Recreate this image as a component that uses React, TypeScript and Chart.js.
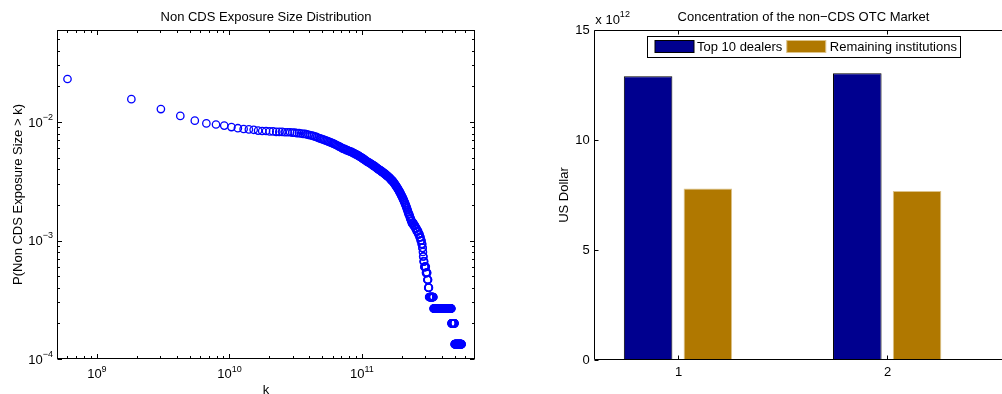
import React, { useEffect, useRef } from 'react';
import { Chart, registerables } from 'chart.js';

Chart.register(...registerables);

// ---------- Left panel: CCDF of non-CDS exposure sizes ----------
const N_EXPOSURES = 15000;
// evaluation grid of k (uniformly spaced thresholds)
const K_START = 0.6e9;
const K_STEP = 1.22e9;
// number of exposures larger than k, one per grid point
const CCDF_COUNTS = [
  346, 234, 193, 169, 154, 146, 143, 140, 136, 133,
  131, 130, 129, 127, 126, 126, 125, 125, 124, 124,
  124, 123, 123, 123, 122, 122, 121, 121, 120, 119,
  119, 118, 117, 116, 115, 114, 113, 112, 110, 109,
  108, 107, 106, 105, 104, 103, 102, 101, 100, 99,
  98, 97, 96, 95, 94, 93, 92, 91, 90, 89,
  89, 88, 87, 87, 86, 85, 85, 84, 84, 83,
  82, 82, 81, 80, 80, 79, 78, 78, 77, 76,
  76, 75, 74, 74, 73, 72, 72, 71, 70, 70,
  69, 69, 68, 68, 67, 67, 66, 66, 65, 65,
  64, 64, 63, 63, 62, 62, 61, 61, 60, 60,
  59, 59, 59, 58, 58, 57, 57, 57, 56, 56,
  55, 55, 55, 54, 54, 53, 53, 53, 52, 52,
  51, 51, 51, 50, 50, 49, 49, 48, 48, 48,
  47, 47, 46, 46, 45, 45, 44, 44, 43, 43,
  42, 42, 41, 41, 40, 40, 39, 39, 38, 38,
  37, 37, 36, 36, 35, 35, 34, 34, 33, 33,
  32, 32, 31, 31, 30, 30, 29, 29, 28, 28,
  27, 27, 26, 26, 25, 25, 25, 24, 24, 23,
  23, 23, 22, 22, 22, 21, 21, 21, 21, 21,
  21, 20, 20, 20, 20, 20, 20, 19, 19, 19,
  19, 19, 18, 18, 18, 18, 18, 18, 17, 17,
  17, 17, 17, 16, 16, 16, 16, 15, 15, 15,
  15, 14, 14, 14, 13, 13, 12, 11, 11, 10,
  10, 10, 9, 9, 9, 9, 9, 9, 9, 8,
  8, 8, 8, 8, 8, 7, 7, 7, 7, 6,
  6, 6, 6, 5, 5, 5, 5, 5, 5, 5,
  5, 5, 5, 5, 5, 5, 5, 5, 5, 5,
  5, 5, 5, 5, 4, 4, 4, 4, 4, 4,
  4, 4, 4, 4, 4, 4, 4, 4, 4, 4,
  4, 4, 4, 4, 4, 4, 4, 4, 4, 4,
  4, 4, 4, 4, 4, 4, 4, 4, 4, 4,
  4, 4, 4, 4, 4, 4, 4, 4, 4, 4,
  4, 4, 4, 4, 4, 4, 4, 4, 4, 4,
  4, 4, 4, 4, 4, 4, 4, 4, 4, 4,
  4, 4, 4, 4, 4, 4, 4, 4, 4, 4,
  4, 4, 4, 4, 4, 4, 4, 4, 4, 4,
  4, 4, 4, 4, 4, 4, 4, 4, 4, 4,
  4, 4, 4, 4, 4, 4, 4, 4, 3, 3,
  3, 3, 3, 3, 3, 3, 3, 3, 3, 3,
  3, 3, 3, 3, 3, 3, 3, 3, 3, 3,
  2, 2, 2, 2, 2, 2, 2, 2, 2, 2,
  2, 2, 2, 2, 2, 2, 2, 2, 2, 2,
  2, 2, 2, 2, 2, 2, 2, 2, 2, 2,
  2, 2, 2, 2, 2, 2, 2, 2, 2, 2,
  2, 2, 2, 2, 2, 2, 2, 2, 2, 2,
  2, 2, 2,
];
const X_MIN = 5e8;
const X_MAX = 7.13e11;
const Y_MIN = 1e-4;
const Y_MAX = 0.0598;
const X_DECADES = [9, 10, 11];
const Y_DECADES = [-4, -3, -2];
const LEFT_TITLE = 'Non CDS Exposure Size Distribution';
const LEFT_XLABEL = 'k';
const LEFT_YLABEL = 'P(Non CDS Exposure Size > k)';

// ---------- Right panel: concentration bars ----------
const BAR_CATEGORIES = [1, 2];
const TOP10_DEALERS = [12.9e12, 13.03e12];
const REMAINING_INSTITUTIONS = [7.8e12, 7.68e12];
const BAR_Y_TICKS = [0, 5, 10, 15];
const BAR_SCALE_EXP = 12;
const RIGHT_TITLE = 'Concentration of the non\u2212CDS OTC Market';
const RIGHT_YLABEL = 'US Dollar';
const SERIES_NAMES = ['Top 10 dealers', 'Remaining institutions'];

const FONT = '"Liberation Sans", Arial, Helvetica, sans-serif';
const FS = 13;
const FS_SUP = 9;
const MARKER_BLUE = '#0000ff';
const NAVY = '#00008f';
const GOLD = '#b07800';
const GOLD_EDGE = '#dcc38a';

function drawPow(ctx: CanvasRenderingContext2D, base: string, exp: string, x: number, y: number, align: string, supDy = -5.5) {
  ctx.font = `${FS}px ${FONT}`;
  const wb = ctx.measureText(base).width;
  ctx.font = `${FS_SUP}px ${FONT}`;
  const we = ctx.measureText(exp).width;
  const total = wb + we;
  const sx = align === 'right' ? x - total : align === 'center' ? x - total / 2 : x;
  ctx.textAlign = 'left';
  ctx.textBaseline = 'middle';
  ctx.font = `${FS}px ${FONT}`;
  ctx.fillText(base, sx, y);
  ctx.font = `${FS_SUP}px ${FONT}`;
  ctx.fillText(exp, sx + wb, y + supDy);
}

function line(ctx: CanvasRenderingContext2D, x1: number, y1: number, x2: number, y2: number) {
  ctx.beginPath();
  ctx.moveTo(x1, y1);
  ctx.lineTo(x2, y2);
  ctx.stroke();
}

const leftDecor = {
  id: 'leftDecor',
  afterDraw(chart: any) {
    const { ctx, chartArea: a, scales } = chart;
    const xs = scales.x;
    const ys = scales.y;
    const L = Math.round(a.left) + 0.5;
    const R = Math.round(a.right) - 0.5;
    const T = Math.round(a.top) + 0.5;
    const B = Math.round(a.bottom) - 0.5;
    ctx.save();
    ctx.strokeStyle = '#000';
    ctx.fillStyle = '#000';
    ctx.lineWidth = 1;
    ctx.strokeRect(L, T, R - L, B - T);
    // x ticks (major + minor), bottom and top, inward
    for (let d = 8; d <= 11; d++) {
      for (let m = 1; m <= 9; m++) {
        const v = m * Math.pow(10, d);
        if (v <= X_MIN || v >= X_MAX) continue;
        const px = Math.round(xs.getPixelForValue(v)) + 0.5;
        const len = m === 1 ? 4.5 : 2.5;
        line(ctx, px, B, px, B - len);
        line(ctx, px, T, px, T + len);
      }
    }
    for (let d = -5; d <= -1; d++) {
      for (let m = 1; m <= 9; m++) {
        const v = m * Math.pow(10, d);
        if (v <= Y_MIN * 0.999 || v >= Y_MAX) continue;
        const py = Math.round(ys.getPixelForValue(v)) + 0.5;
        const len = m === 1 ? 4.5 : 2.5;
        line(ctx, L, py, L + len, py);
        line(ctx, R, py, R - len, py);
      }
    }
    // tick labels
    for (const d of Y_DECADES) {
      const py = ys.getPixelForValue(Math.pow(10, d));
      drawPow(ctx, '10', '\u2212' + String(-d), a.left - 4, py + 1, 'right', -5.5);
    }
    for (const d of X_DECADES) {
      const px = xs.getPixelForValue(Math.pow(10, d));
      drawPow(ctx, '10', String(d), px, 374.5, 'center', -5);
    }
    const cx = (a.left + a.right) / 2;
    ctx.font = `${FS}px ${FONT}`;
    ctx.textAlign = 'center';
    ctx.textBaseline = 'alphabetic';
    ctx.fillText(LEFT_TITLE, cx, 21);
    ctx.fillText(LEFT_XLABEL, cx, 393.5);
    ctx.translate(21.5, (a.top + a.bottom) / 2);
    ctx.rotate(-Math.PI / 2);
    ctx.fillText(LEFT_YLABEL, 0, 0);
    ctx.restore();
  },
};

const rightDecor = {
  id: 'rightDecor',
  afterDraw(chart: any) {
    const { ctx, chartArea: a, scales } = chart;
    const xs = scales.x;
    const ys = scales.y;
    const L = Math.round(a.left) + 0.5;
    const T = Math.round(a.top) + 0.5;
    const B = Math.round(a.bottom) - 0.5;
    const R = chart.width + 2;
    ctx.save();
    ctx.strokeStyle = '#000';
    ctx.fillStyle = '#000';
    ctx.lineWidth = 1;
    line(ctx, L, T, R, T);
    line(ctx, L, B, R, B);
    line(ctx, L, T, L, B);
    const scale = Math.pow(10, BAR_SCALE_EXP);
    for (const t of BAR_Y_TICKS) {
      const py = Math.round(ys.getPixelForValue(t * scale)) + 0.5;
      line(ctx, L, py, L + 4, py);
      ctx.font = `${FS}px ${FONT}`;
      ctx.textAlign = 'right';
      ctx.textBaseline = 'middle';
      ctx.fillText(String(t), a.left - 4.5, py);
    }
    for (const c of BAR_CATEGORIES) {
      const px = Math.round(xs.getPixelForValue(c)) + 0.5;
      line(ctx, px, B, px, B - 4);
      line(ctx, px, T, px, T + 4);
      ctx.font = `${FS}px ${FONT}`;
      ctx.textAlign = 'center';
      ctx.textBaseline = 'middle';
      ctx.fillText(String(c), px, 372);
    }
    drawPow(ctx, 'x 10', String(BAR_SCALE_EXP), a.left + 1, 20.5, 'left', -5.5);
    const cx = (a.left + a.right) / 2;
    ctx.font = `${FS}px ${FONT}`;
    ctx.textAlign = 'center';
    ctx.textBaseline = 'alphabetic';
    ctx.fillText(RIGHT_TITLE, cx, 21);

    // legend
    const ds = chart.data.datasets;
    ctx.font = `${FS}px ${FONT}`;
    const w1 = ctx.measureText(ds[0].label).width;
    const w2 = ctx.measureText(ds[1].label).width;
    const sw = 39;
    const sh = 12;
    const boxL = 127.5;
    const boxT = 36.5;
    const boxH = 21;
    const s1x = boxL + 7.5;
    const t1x = s1x + sw + 3;
    const s2x = t1x + w1 + 4.5;
    const t2x = s2x + sw + 4;
    const boxR = t2x + w2 + 4;
    ctx.fillStyle = '#fff';
    ctx.fillRect(boxL, boxT, boxR - boxL, boxH);
    ctx.strokeStyle = '#000';
    ctx.strokeRect(boxL, boxT, Math.round(boxR - boxL), boxH);
    const sy = boxT + 4;
    ctx.fillStyle = ds[0].backgroundColor;
    ctx.fillRect(s1x, sy, sw, sh);
    ctx.strokeStyle = ds[0].borderColor;
    ctx.strokeRect(s1x, sy, sw, sh);
    ctx.fillStyle = ds[1].backgroundColor;
    ctx.fillRect(s2x, sy, sw, sh);
    ctx.strokeStyle = ds[1].borderColor;
    ctx.strokeRect(s2x, sy, sw, sh);
    ctx.fillStyle = '#000';
    ctx.textAlign = 'left';
    ctx.textBaseline = 'middle';
    ctx.fillText(ds[0].label, t1x, sy + sh / 2 + 0.5);
    ctx.fillText(ds[1].label, t2x, sy + sh / 2 + 0.5);

    ctx.translate(48, (a.top + a.bottom) / 2);
    ctx.rotate(-Math.PI / 2);
    ctx.textAlign = 'center';
    ctx.textBaseline = 'alphabetic';
    ctx.fillText(RIGHT_YLABEL, 0, 0);
    ctx.restore();
  },
};

export default function App() {
  const leftRef = useRef<HTMLCanvasElement>(null);
  const rightRef = useRef<HTMLCanvasElement>(null);

  useEffect(() => {
    const points = CCDF_COUNTS.map((c, i) => ({ x: K_START + i * K_STEP, y: c / N_EXPOSURES }));
    const left = new Chart(leftRef.current!, {
      type: 'scatter',
      data: {
        datasets: [
          {
            data: points,
            pointStyle: 'circle',
            pointRadius: 3.7,
            pointBorderWidth: 1.3,
            pointBorderColor: MARKER_BLUE,
            pointBackgroundColor: 'rgba(0,0,0,0)',
            showLine: false,
          } as any,
        ],
      },
      options: {
        responsive: false,
        maintainAspectRatio: false,
        animation: false,
        layout: { padding: { left: 57, top: 30, right: 45, bottom: 35 } },
        plugins: { legend: { display: false }, tooltip: { enabled: false }, title: { display: false } },
        scales: {
          x: { type: 'logarithmic', min: X_MIN, max: X_MAX, display: false },
          y: { type: 'logarithmic', min: Y_MIN, max: Y_MAX, display: false },
        },
      },
      plugins: [leftDecor],
    });

    const right = new Chart(rightRef.current!, {
      type: 'bar',
      data: {
        datasets: [
          {
            label: SERIES_NAMES[0],
            data: BAR_CATEGORIES.map((c, i) => ({ x: c, y: TOP10_DEALERS[i] })),
            backgroundColor: NAVY,
            borderColor: '#000000',
            borderWidth: 1,
            categoryPercentage: 0.5713,
            barPercentage: 0.8124,
          },
          {
            label: SERIES_NAMES[1],
            data: BAR_CATEGORIES.map((c, i) => ({ x: c, y: REMAINING_INSTITUTIONS[i] })),
            backgroundColor: GOLD,
            borderColor: GOLD_EDGE,
            borderWidth: 1,
            categoryPercentage: 0.5713,
            barPercentage: 0.8124,
          },
        ] as any,
      },
      options: {
        responsive: false,
        maintainAspectRatio: false,
        animation: false,
        layout: { padding: { left: 74.3, top: 30, right: 7.3, bottom: 34 } },
        plugins: { legend: { display: false }, tooltip: { enabled: false }, title: { display: false } },
        scales: {
          x: {
            type: 'linear',
            min: 0.6,
            max: 2.6,
            offset: false,
            display: false,
            afterBuildTicks: (s: any) => {
              s.ticks = BAR_CATEGORIES.map((v) => ({ value: v }));
            },
          },
          y: { type: 'linear', min: 0, max: 15 * Math.pow(10, BAR_SCALE_EXP), display: false },
        },
      },
      plugins: [rightDecor],
    });

    return () => {
      left.destroy();
      right.destroy();
    };
  }, []);

  return (
    <div style={{ position: 'absolute', left: 0, top: 0, width: 1002, height: 394, overflow: 'hidden', background: '#fff' }}>
      <canvas ref={leftRef} width={520} height={394} style={{ position: 'absolute', left: 0, top: 0, width: 520, height: 394 }} />
      <canvas ref={rightRef} width={500} height={394} style={{ position: 'absolute', left: 520, top: 0, width: 500, height: 394 }} />
    </div>
  );
}
